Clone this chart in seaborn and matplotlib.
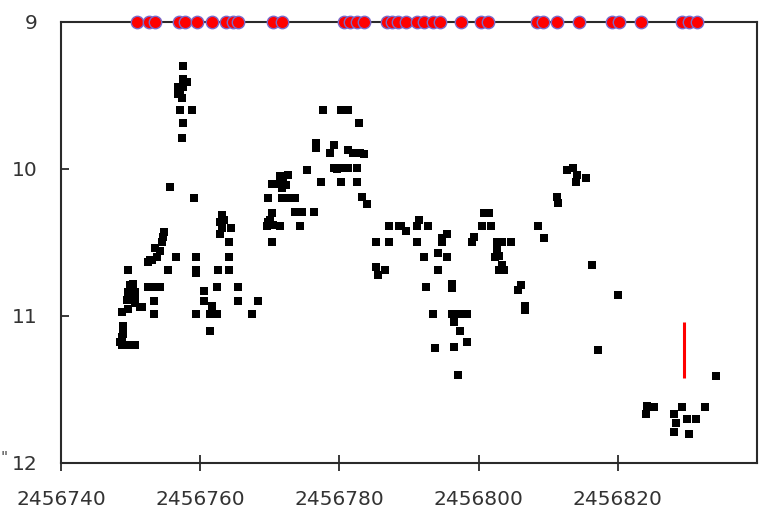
import numpy as np
import pandas as pd
import matplotlib
matplotlib.use("Agg")
import matplotlib.pyplot as plt
import seaborn as sns

# photometry points (JD, magnitude)
jd = [2456748.9, 2456748.9, 2456748.75, 2456748.5, 2456748.75, 2456749.5, 2456750.3, 2456750.6,
      2456749.6, 2456750.3, 2456749.9, 2456750.2, 2456749.6, 2456749.5, 2456750.6, 2456750.6,
      2456751.3, 2456751.6, 2456749.6, 2456748.75, 2456750.6, 2456750.3,
      2456752.5, 2456752.8, 2456753.1, 2456753.5, 2456753.8, 2456754.2, 2456754.5, 2456754.6,
      2456754.8, 2456752.5, 2456753.1, 2456753.8, 2456754.2, 2456753.3, 2456753.3, 2456755.4,
      2456755.6,
      2456757.6, 2456757.6, 2456758.1, 2456756.8, 2456757.1, 2456756.8, 2456757.4, 2456757.6,
      2456757.1, 2456758.8, 2456757.6, 2456757.4, 2456759.1, 2456756.5, 2456759.4, 2456759.4,
      2456759.4, 2456759.4,
      2456760.5, 2456760.5, 2456761.7, 2456762.4, 2456761.4, 2456762.4, 2456761.4, 2456762.5,
      2456763.1, 2456762.8, 2456763.1, 2456764.5, 2456762.8, 2456763.4, 2456764.2, 2456764.2,
      2456764.2, 2456765.4, 2456765.4, 2456767.4, 2456768.3,
      2456770.3, 2456769.7, 2456769.7, 2456769.6, 2456770.0, 2456770.4, 2456771.4, 2456770.3,
      2456770.3, 2456772.6, 2456771.4, 2456771.9, 2456770.7, 2456772.4, 2456771.7, 2456771.7,
      2456772.6, 2456773.6, 2456773.6, 2456774.6, 2456774.3,
      2456775.3, 2456776.3, 2456777.7, 2456780.3, 2456781.2, 2456782.8, 2456776.7, 2456776.7,
      2456779.3, 2456778.7, 2456781.2, 2456781.9, 2456782.9, 2456783.6, 2456779.3, 2456780.3,
      2456781.2, 2456782.5, 2456779.7, 2456777.4, 2456780.3, 2456782.5, 2456783.2, 2456783.9,
      2456785.3, 2456787.2, 2456787.2, 2456788.6, 2456785.3, 2456785.5, 2456786.5, 2456788.9,
      2456789.6, 2456791.5, 2456791.2, 2456792.7, 2456791.2, 2456792.2, 2456792.5, 2456793.4,
      2456793.7,
      2456795.4, 2456794.7, 2456794.7, 2456794.2, 2456795.4, 2456794.2, 2456796.2, 2456796.2,
      2456796.2, 2456797.2, 2456798.4, 2456796.5, 2456797.4, 2456798.4, 2456796.5, 2456797.1,
      2456799.4, 2456799.1,
      2456800.8, 2456801.5, 2456800.5, 2456801.8, 2456802.6, 2456803.4, 2456804.7, 2456802.6,
      2456803.0, 2456802.3, 2456803.3, 2456803.7, 2456803.0, 2456806.1, 2456805.6, 2456806.6,
      2456806.6,
      2456808.6, 2456809.4, 2456811.3, 2456811.4, 2456812.7, 2456813.5, 2456814.2, 2456814.0,
      2456815.5, 2456816.3, 2456817.2, 2456820.1,
      2456824.2, 2456825.2, 2456824.1, 2456828.1, 2456828.4, 2456828.1, 2456829.2, 2456830.0,
      2456831.2, 2456830.2, 2456832.5, 2456834.1]
mag = [11.07, 11.12, 11.14, 11.18, 11.20, 11.20, 11.20, 11.20,
       10.69, 10.78, 10.79, 10.84, 10.84, 10.89, 10.89, 10.84,
       10.94, 10.94, 10.95, 10.97, 10.91, 10.81,
       10.63, 10.62, 10.62, 10.54, 10.60, 10.56, 10.50, 10.46,
       10.43, 10.80, 10.80, 10.80, 10.80, 10.90, 10.99, 10.69,
       10.12,
       9.30, 9.39, 9.41, 9.44, 9.46, 9.49, 9.52, 9.44,
       9.60, 9.60, 9.69, 9.79, 10.20, 10.60, 10.60, 10.69,
       10.71, 10.99,
       10.83, 10.90, 10.93, 10.80, 10.99, 10.99, 11.10, 10.69,
       10.31, 10.36, 10.40, 10.40, 10.44, 10.35, 10.50, 10.60,
       10.69, 10.80, 10.90, 10.99, 10.90,
       10.10, 10.20, 10.36, 10.39, 10.35, 10.38, 10.39, 10.50,
       10.30, 10.04, 10.05, 10.09, 10.10, 10.11, 10.13, 10.20,
       10.20, 10.20, 10.29, 10.29, 10.39,
       10.01, 10.29, 9.60, 9.60, 9.60, 9.69, 9.82, 9.86,
       9.84, 9.89, 9.87, 9.89, 9.89, 9.90, 9.99, 9.99,
       9.99, 9.99, 10.00, 10.09, 10.09, 10.09, 10.19, 10.24,
       10.50, 10.50, 10.39, 10.39, 10.67, 10.72, 10.69, 10.39,
       10.42, 10.35, 10.39, 10.39, 10.50, 10.60, 10.80, 10.99,
       11.22,
       10.44, 10.47, 10.50, 10.57, 10.60, 10.69, 10.78, 10.81,
       10.99, 10.99, 10.99, 11.04, 11.10, 11.18, 11.21, 11.40,
       10.46, 10.50,
       10.30, 10.30, 10.39, 10.39, 10.50, 10.50, 10.50, 10.55,
       10.59, 10.60, 10.65, 10.69, 10.69, 10.79, 10.82, 10.93,
       10.96,
       10.39, 10.47, 10.19, 10.23, 10.01, 9.99, 10.04, 10.09,
       10.06, 10.65, 11.23, 10.86,
       11.61, 11.62, 11.67, 11.67, 11.73, 11.79, 11.62, 11.70,
       11.70, 11.80, 11.62, 11.41]

# epochs marked along the top edge
epoch_jd = [2456750.9, 2456752.6, 2456753.5, 2456756.9, 2456757.8, 2456759.5, 2456761.7,
            2456763.7, 2456764.7, 2456765.5, 2456770.4, 2456771.7, 2456780.6, 2456781.5,
            2456782.5, 2456783.5, 2456786.8, 2456787.5, 2456788.4, 2456789.6, 2456791.1,
            2456792.2, 2456793.4, 2456794.4, 2456797.5, 2456800.4, 2456801.3, 2456808.4,
            2456809.2, 2456811.3, 2456814.5, 2456819.2, 2456820.2, 2456823.4, 2456829.2,
            2456830.2, 2456831.4]
epoch_mag = [9.0] * len(epoch_jd)

# red bar
bar_jd = 2456829.5
bar_lo = 11.04
bar_hi = 11.42

df = pd.DataFrame({"jd": jd, "mag": mag})
ep = pd.DataFrame({"jd": epoch_jd, "mag": epoch_mag})

sns.set_style("white")
plt.rcParams["font.family"] = ["DejaVu Sans"]

fig = plt.figure(figsize=(7.64, 5.11), dpi=100)
ax = fig.add_axes([0.0798, 0.094, 0.911, 0.863])

sns.scatterplot(data=df, x="jd", y="mag", marker="s", color="black", s=34,
                linewidth=0, ax=ax, zorder=3)
ax.vlines(bar_jd, bar_lo, bar_hi, color="red", linewidth=2.2, zorder=3)
sns.scatterplot(data=ep, x="jd", y="mag", marker="o", color="red", s=80,
                edgecolor="#7a6acb", linewidth=1.0, ax=ax, zorder=5, clip_on=False)

ax.set_xlim(2456740, 2456840)
ax.set_ylim(12, 9)
ax.set_xticks([2456740, 2456760, 2456780, 2456800, 2456820])
ax.set_xticklabels(["2456740", "2456760", "2456780", "2456800", "2456820"])
ax.set_yticks([9, 10, 11, 12])
ax.set_yticklabels(["9", "10", "11", "12"])
ax.set_xlabel("")
ax.set_ylabel("")

for sp in ax.spines.values():
    sp.set_visible(True)
    sp.set_color("#2a2a2a")
    sp.set_linewidth(1.5)

ax.tick_params(axis="x", bottom=True, direction="inout", length=11, width=1.3,
               color="#2a2a2a", labelsize=14.5, pad=14, labelcolor="#333333")
ax.tick_params(axis="y", left=True, direction="in", length=6, width=1.3,
               color="#2a2a2a", labelsize=14.5, pad=17, labelcolor="#333333")

fig.text(0.001, 0.093, '"', fontsize=11, color="#444444")

fig.savefig("out.png", dpi=100)
